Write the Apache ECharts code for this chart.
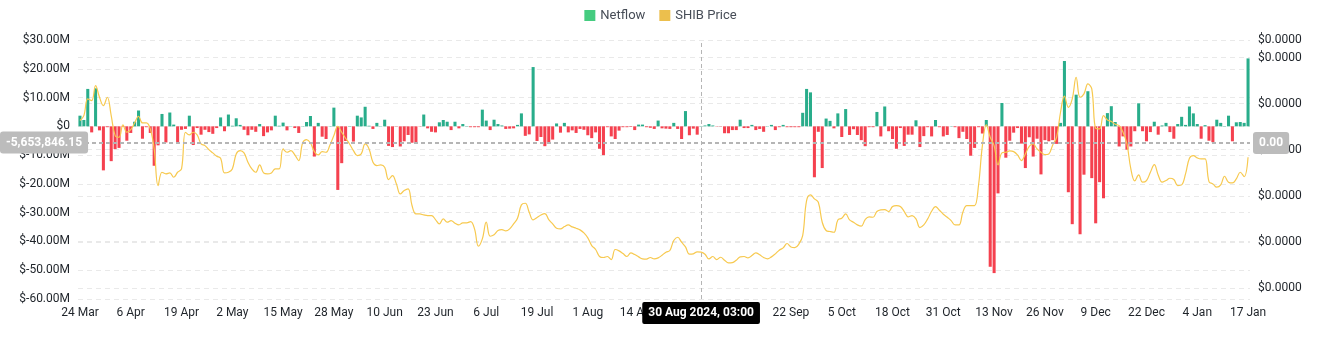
<!DOCTYPE html>
<html>
<head>
<meta charset="utf-8">
<title>SHIB Netflow vs Price</title>
<script src="https://cdn.jsdelivr.net/npm/echarts@6/dist/echarts.min.js"></script>
<style>
  html, body { margin: 0; padding: 0; background: #ffffff; }
  #chart { width: 1321px; height: 350px; }
</style>
</head>
<body>
<div id="chart"></div>
<script>
// Daily exchange netflow for SHIB, in millions of USD (24 Mar 2024 – 17 Jan 2025)
const netflowMillions = [
  3.7, 2.2, 13.0, -2.1, 13.2, -1.4, -15.3, -0.3, -12.1, -7.9,
  -7.5, -0.2, -5.0, -2.3, 1.6, 5.5, -4.3, -0.3, -2.3, -13.7,
  -6.6, 4.3, -5.6, 4.8, 0.6, -5.6, -1.2, -0.9, 3.7, -6.5,
  -0.6, -2.9, -1.2, -2.0, -2.6, -0.6, 3.1, -1.7, 4.1, 0.2,
  2.8, 0.5, -1.2, -3.1, -1.2, -1.9, 0.8, -3.4, -2.1, -1.4,
  3.7, 0.2, 1.3, -1.4, 0.1, -0.6, -2.3, 0.1, 1.5, 3.6,
  -10.5, 1.2, -3.6, -4.4, 0.1, 6.5, -22.1, -12.8, -5.1, 0.1,
  -5.3, 3.7, 3.1, 6.8, 0.2, -0.9, 1.2, 0.1, 2.3, -6.8,
  -7.2, -0.1, -7.0, -5.2, -3.0, -5.7, -5.7, -0.1, 4.1, -0.7,
  -1.9, -2.1, 1.4, 2.2, 1.6, -1.3, 1.6, -0.7, 0.8, 0.1,
  -0.3, -0.3, -0.3, 5.8, 2.0, -1.3, 2.3, 0.8, 0.3, -0.9,
  -0.8, -0.7, 0.5, 4.5, -3.3, -2.8, 20.6, -5.1, -3.7, -6.9,
  -5.8, -4.6, 1.0, -2.2, 1.2, -2.1, -1.4, -2.3, -0.9, -1.2,
  -3.1, -4.1, -2.1, -7.8, -10.0, -0.3, -3.5, -4.4, -1.5, -0.3,
  -0.3, -0.2, -1.3, 0.6, 0.6, -0.3, -0.5, -0.9, 2.0, -0.7,
  -0.8, -0.9, 1.2, -0.9, -4.4, 5.3, -3.1, -0.8, -2.9, 0.1,
  0.3, 0.8, 0.3, -0.1, -0.1, -2.4, -2.4, -1.3, -1.3, 2.3,
  -0.6, -0.6, 0.5, -1.3, -0.9, -1.9, 0.1, 0.5, -1.3, -0.3,
  0.5, -0.3, -0.3, -0.3, -0.3, 4.7, 13.0, 11.8, -17.7, -1.9,
  -14.5, 2.7, 1.9, -0.7, 4.5, -3.7, 6.0, -3.0, -1.0, -3.0,
  -4.8, -6.9, -0.3, -0.3, 5.0, -3.5, 6.9, -1.7, -4.4, -7.8,
  -0.6, -6.8, -2.9, -2.9, 2.1, -7.2, -3.4, -0.3, -3.5, 2.2,
  -0.3, -3.5, -3.0, 0.1, -0.3, -4.1, -1.9, -4.4, -10.2, -7.5,
  -0.3, -2.5, 2.2, -48.8, -51.0, -23.3, 8.1, -10.9, -5.0, -2.2,
  -0.6, -6.0, -14.5, -3.8, -10.5, -4.3, -16.7, -4.8, -5.2, -4.8,
  -6.1, 1.2, 22.7, -22.9, -34.0, 11.0, -37.5, -16.8, 12.2, -18.0,
  -33.7, -19.4, -25.0, 4.6, 7.0, 1.5, -7.0, -3.5, -8.1, -7.0,
  -1.7, 8.0, -1.7, -5.2, -2.0, 1.6, -2.9, 0.3, 1.2, -2.0,
  -4.3, 0.8, 3.3, 0.5, 6.9, 4.5, 0.8, -4.3, 0.4, -5.0,
  -5.5, 2.3, 1.2, 0.1, 3.7, -5.2, 1.4, 1.5, 1.2, 23.6
];

// Daily SHIB price in USD
const shibPrice = [
  0.00002816, 0.00002870, 0.00003051, 0.00003033, 0.00003195, 0.00003069, 0.00002978, 0.00003069, 0.00002870, 0.00002653,
  0.00002635, 0.00002769, 0.00002689, 0.00002718, 0.00002790, 0.00002863, 0.00002790, 0.00002790, 0.00002725, 0.00002508,
  0.00002111, 0.00002255, 0.00002237, 0.00002248, 0.00002201, 0.00002255, 0.00002291, 0.00002689, 0.00002660, 0.00002689,
  0.00002660, 0.00002562, 0.00002544, 0.00002501, 0.00002465, 0.00002429, 0.00002407, 0.00002248, 0.00002255, 0.00002291,
  0.00002454, 0.00002490, 0.00002465, 0.00002364, 0.00002291, 0.00002255, 0.00002335, 0.00002248, 0.00002237, 0.00002248,
  0.00002291, 0.00002291, 0.00002508, 0.00002472, 0.00002490, 0.00002443, 0.00002382, 0.00002573, 0.00002609, 0.00002573,
  0.00002479, 0.00002443, 0.00002479, 0.00002472, 0.00002552, 0.00002653, 0.00002754, 0.00002689, 0.00002624, 0.00002562,
  0.00002490, 0.00002436, 0.00002454, 0.00002562, 0.00002508, 0.00002364, 0.00002328, 0.00002335, 0.00002309, 0.00002176,
  0.00002219, 0.00002129, 0.00002020, 0.00002056, 0.00002074, 0.00001894, 0.00001803, 0.00001803, 0.00001792, 0.00001785,
  0.00001785, 0.00001742, 0.00001695, 0.00001749, 0.00001713, 0.00001731, 0.00001702, 0.00001684, 0.00001706, 0.00001706,
  0.00001720, 0.00001641, 0.00001453, 0.00001532, 0.00001713, 0.00001561, 0.00001576, 0.00001623, 0.00001633, 0.00001619,
  0.00001641, 0.00001695, 0.00001756, 0.00001901, 0.00001919, 0.00001821, 0.00001738, 0.00001764, 0.00001792, 0.00001807,
  0.00001742, 0.00001695, 0.00001648, 0.00001641, 0.00001666, 0.00001684, 0.00001662, 0.00001648, 0.00001630, 0.00001597,
  0.00001543, 0.00001460, 0.00001417, 0.00001341, 0.00001330, 0.00001341, 0.00001308, 0.00001417, 0.00001402, 0.00001373,
  0.00001341, 0.00001380, 0.00001362, 0.00001337, 0.00001315, 0.00001312, 0.00001330, 0.00001315, 0.00001326, 0.00001355,
  0.00001388, 0.00001406, 0.00001514, 0.00001550, 0.00001496, 0.00001445, 0.00001366, 0.00001370, 0.00001391, 0.00001388,
  0.00001366, 0.00001315, 0.00001341, 0.00001308, 0.00001333, 0.00001301, 0.00001272, 0.00001275, 0.00001301, 0.00001337,
  0.00001341, 0.00001326, 0.00001351, 0.00001380, 0.00001359, 0.00001330, 0.00001315, 0.00001337, 0.00001370, 0.00001409,
  0.00001435, 0.00001482, 0.00001445, 0.00001438, 0.00001474, 0.00001568, 0.00001948, 0.00002009, 0.00001966, 0.00001930,
  0.00001713, 0.00001623, 0.00001612, 0.00001604, 0.00001738, 0.00001756, 0.00001803, 0.00001738, 0.00001713, 0.00001684,
  0.00001670, 0.00001742, 0.00001771, 0.00001767, 0.00001829, 0.00001847, 0.00001850, 0.00001829, 0.00001883, 0.00001894,
  0.00001883, 0.00001829, 0.00001771, 0.00001785, 0.00001749, 0.00001655, 0.00001684, 0.00001749, 0.00001832, 0.00001883,
  0.00001843, 0.00001800, 0.00001767, 0.00001731, 0.00001684, 0.00001684, 0.00001821, 0.00001894, 0.00001894, 0.00001894,
  0.00002111, 0.00002544, 0.00002769, 0.00002635, 0.00002544, 0.00002335, 0.00002465, 0.00002472, 0.00002486, 0.00002479,
  0.00002443, 0.00002382, 0.00002454, 0.00002537, 0.00002562, 0.00002508, 0.00002472, 0.00002447, 0.00002454, 0.00002552,
  0.00002635, 0.00002906, 0.00003080, 0.00002960, 0.00003051, 0.00003286, 0.00003069, 0.00003105, 0.00003213, 0.00003159,
  0.00002732, 0.00002725, 0.00002870, 0.00002823, 0.00002805, 0.00002776, 0.00002761, 0.00002689, 0.00002562, 0.00002291,
  0.00002161, 0.00002226, 0.00002147, 0.00002165, 0.00002255, 0.00002338, 0.00002226, 0.00002147, 0.00002165, 0.00002190,
  0.00002176, 0.00002111, 0.00002118, 0.00002237, 0.00002407, 0.00002436, 0.00002411, 0.00002400, 0.00002400, 0.00002154,
  0.00002129, 0.00002093, 0.00002118, 0.00002212, 0.00002147, 0.00002139, 0.00002183, 0.00002255, 0.00002208, 0.00002418
];

// Left axis (netflow, millions USD)
const netflowAxis = { min: -60, max: 30, interval: 10 };
// Right axis (price, USD)
const priceAxis = { min: 0.0000088, max: 0.0000369 };

// Crosshair position
const pointerDay = '30 Aug';
const pointerStamp = '30 Aug 2024, 03:00';
const pointerNetflowMillions = -5.65384615;
const pointerPrice = 0.00002573;

const monthNames = ['Jan', 'Feb', 'Mar', 'Apr', 'May', 'Jun', 'Jul', 'Aug', 'Sep', 'Oct', 'Nov', 'Dec'];
const startDay = Date.UTC(2024, 2, 24);
const categories = netflowMillions.map(function (_, i) {
  const d = new Date(startDay + i * 86400000);
  return d.getUTCDate() + ' ' + monthNames[d.getUTCMonth()];
});

const GREEN = '#29ad8b';
const RED = '#f5414f';
const LEGEND_GREEN = '#45cc80';
const YELLOW = '#ecbf4d';
const LINE_YELLOW = '#f7c94f';
const FONT = 'Roboto, "Noto Sans", sans-serif';

const chart = echarts.init(document.getElementById('chart'), null, { renderer: 'canvas' });

const splitLine = { show: true, lineStyle: { color: '#e9e9e9', type: [5, 4], width: 1 } };

const pointerLabelBase = {
  show: true,
  color: '#ffffff',
  fontSize: 12,
  fontWeight: 'bold',
  fontFamily: FONT,
  padding: [5, 6],
  borderRadius: 3,
  margin: 3
};

chart.setOption({
  animation: false,
  textStyle: { fontFamily: FONT },
  legend: {
    top: 4,
    left: 'center',
    itemWidth: 11,
    itemHeight: 11,
    itemGap: 14,
    icon: 'rect',
    textStyle: { fontSize: 13, color: '#474d57', fontFamily: FONT },
    data: [
      { name: 'Netflow', itemStyle: { color: LEGEND_GREEN } },
      { name: 'SHIB Price', itemStyle: { color: YELLOW } }
    ]
  },
  grid: { left: 78, right: 71, top: 40, bottom: 51, containLabel: false },
  xAxis: {
    type: 'category',
    data: categories,
    boundaryGap: true,
    axisLine: { show: false },
    axisTick: { show: false },
    axisLabel: { interval: 12, margin: 8, fontSize: 12, color: '#1e2329', fontFamily: FONT },
    splitLine: { show: false },
    axisPointer: {
      show: true,
      status: 'show',
      value: categories.indexOf(pointerDay),
      type: 'line',
      lineStyle: { color: '#b5b5b5', type: [4, 3], width: 1 },
      label: Object.assign({}, pointerLabelBase, {
        formatter: function () { return pointerStamp; },
        backgroundColor: '#000000',
        borderRadius: 2
      })
    }
  },
  yAxis: [
    {
      type: 'value',
      min: netflowAxis.min,
      max: netflowAxis.max,
      interval: netflowAxis.interval,
      axisLine: { show: false },
      axisTick: { show: false },
      splitLine: splitLine,
      axisLabel: {
        margin: 8,
        fontSize: 12,
        color: '#1e2329',
        fontFamily: FONT,
        formatter: function (v) { return v === 0 ? '$0' : '$' + v.toFixed(2) + 'M'; }
      },
      axisPointer: {
        show: true,
        status: 'show',
        value: pointerNetflowMillions,
        type: 'line',
        lineStyle: { color: '#b5b5b5', type: [4, 3], width: 1 },
        label: Object.assign({}, pointerLabelBase, {
          formatter: function (p) {
            return (p.value * 1e6).toLocaleString('en-US', { minimumFractionDigits: 2, maximumFractionDigits: 2 });
          },
          backgroundColor: '#bcbcbc'
        })
      }
    },
    {
      type: 'value',
      min: priceAxis.min,
      max: priceAxis.max,
      splitNumber: 5,
      axisLine: { show: false },
      axisTick: { show: false },
      splitLine: splitLine,
      axisLabel: {
        margin: 8,
        fontSize: 12,
        color: '#1e2329',
        fontFamily: FONT,
        showMinLabel: false,
        formatter: function (v) { return '$' + v.toFixed(4); }
      },
      axisPointer: {
        show: true,
        status: 'show',
        value: pointerPrice,
        type: 'line',
        lineStyle: { color: '#b5b5b5', type: [4, 3], width: 1 },
        label: Object.assign({}, pointerLabelBase, {
          formatter: function (p) { return Number(p.value).toFixed(2); },
          backgroundColor: '#bcbcbc'
        })
      }
    }
  ],
  series: [
    {
      name: 'Netflow',
      type: 'bar',
      yAxisIndex: 0,
      barCategoryGap: '22%',
      data: netflowMillions,
      itemStyle: {
        color: function (p) { return p.value >= 0 ? GREEN : RED; }
      },
      z: 2
    },
    {
      name: 'SHIB Price',
      type: 'line',
      yAxisIndex: 1,
      data: shibPrice,
      smooth: 0.4,
      showSymbol: false,
      lineStyle: { color: LINE_YELLOW, width: 1.2 },
      itemStyle: { color: LINE_YELLOW },
      z: 3
    }
  ]
});
</script>
</body>
</html>
